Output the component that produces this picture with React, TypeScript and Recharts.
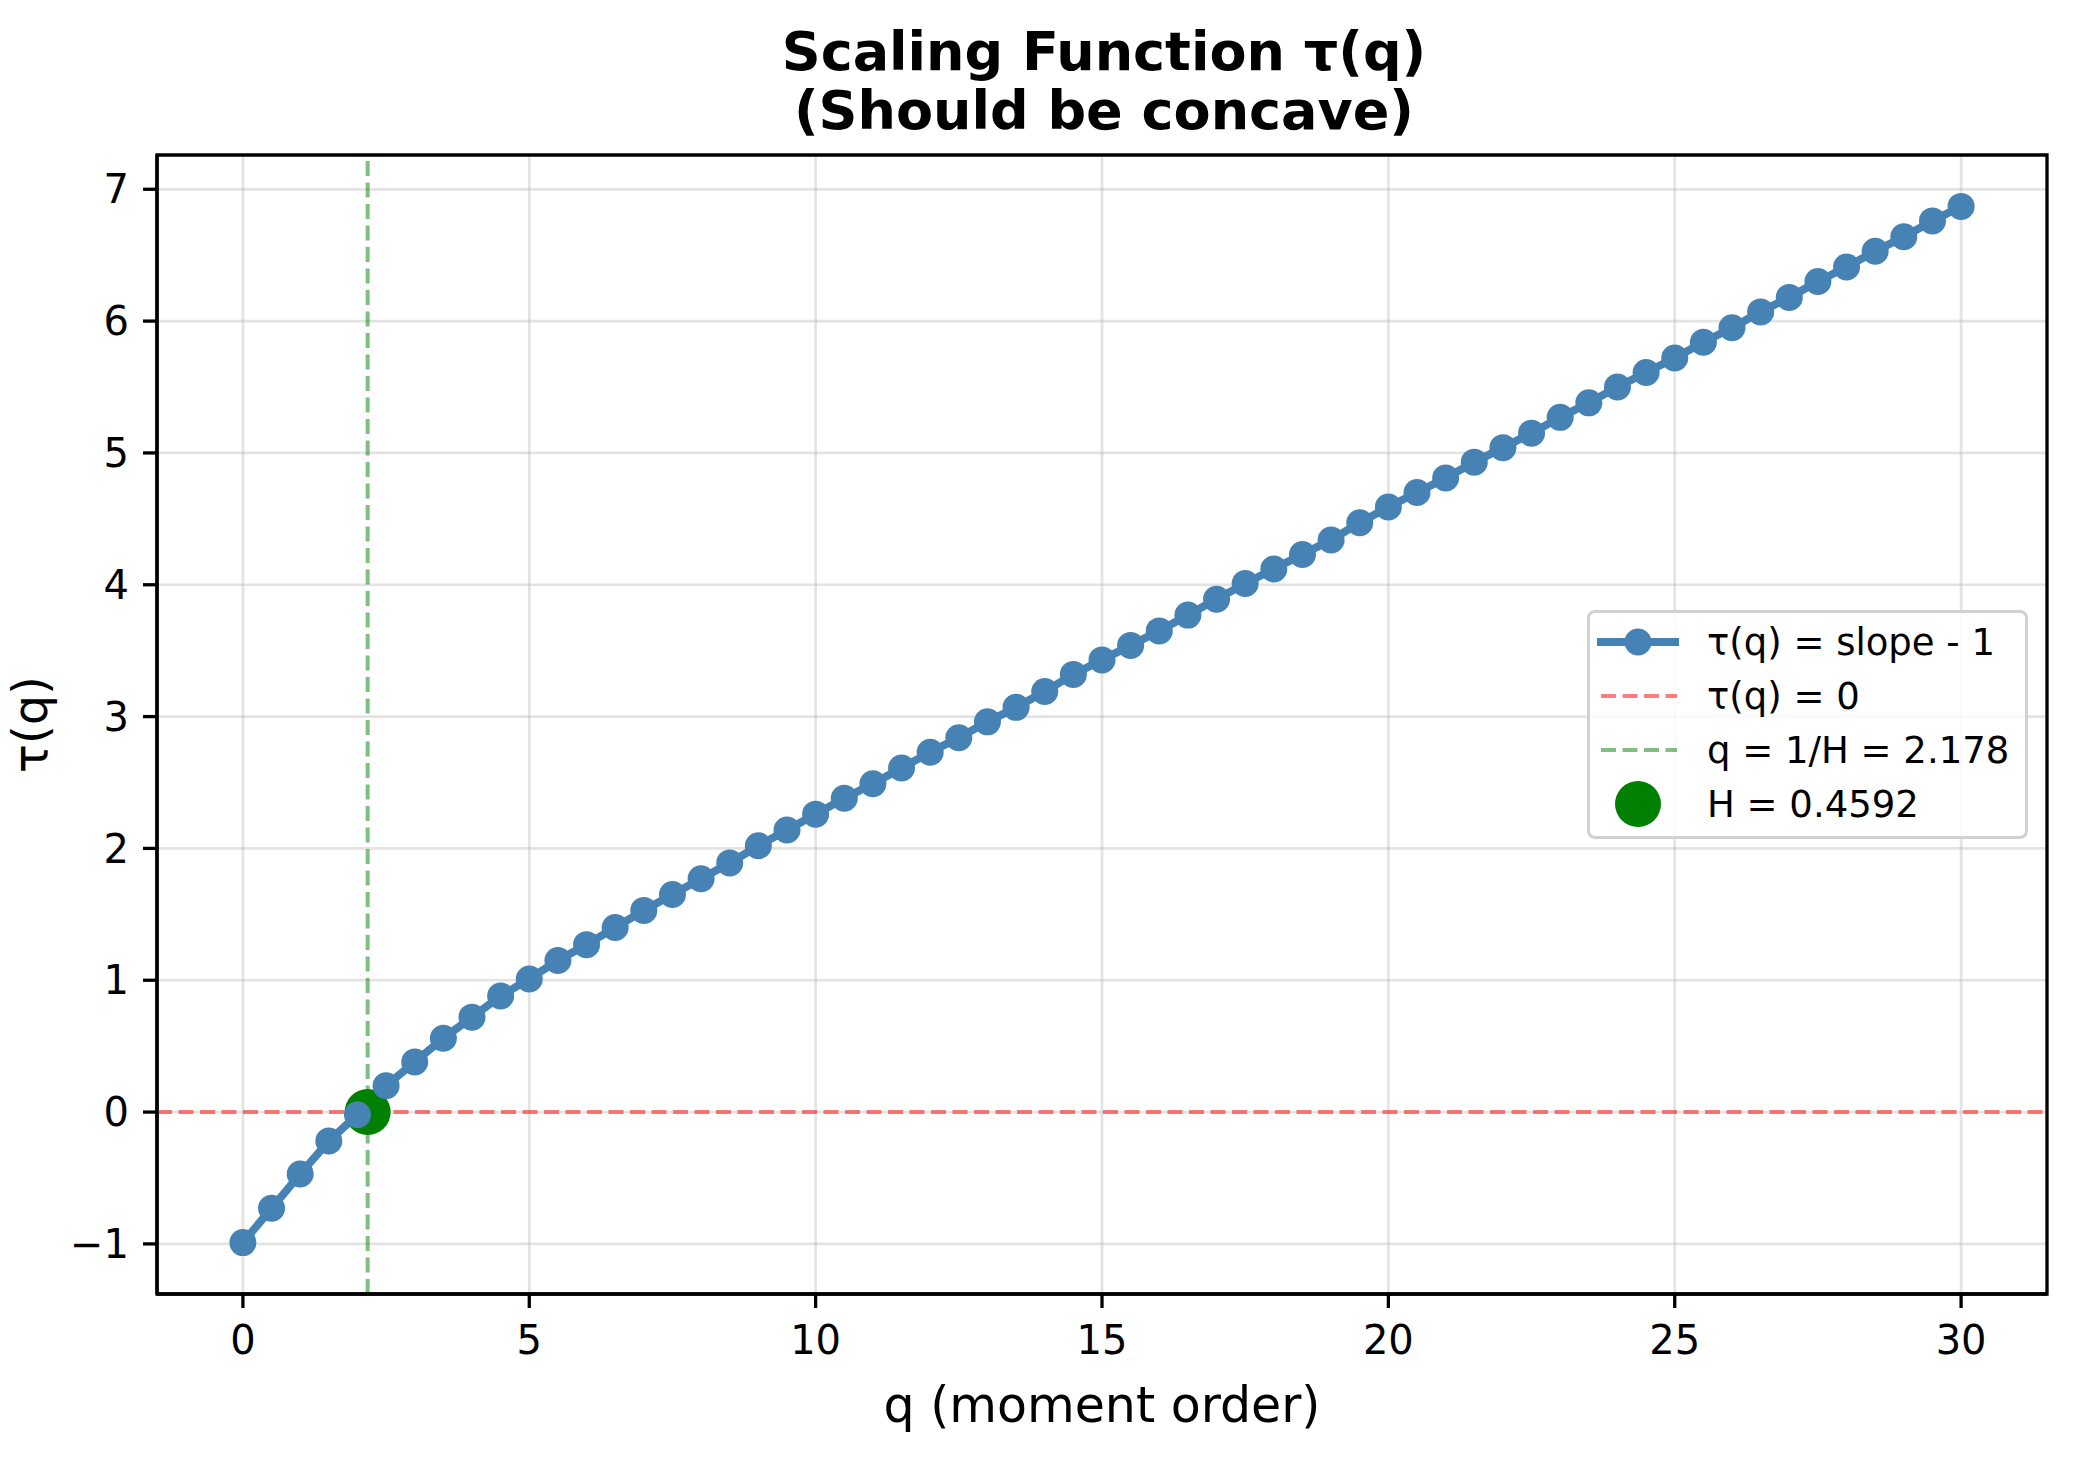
import React from 'react';
import {
  ComposedChart,
  Line,
  Scatter,
  XAxis,
  YAxis,
  CartesianGrid,
  ReferenceLine,
  ReferenceArea,
  Legend,
  Label,
} from 'recharts';

// moment orders q
const qValues = [
  0, 0.5, 1, 1.5, 2, 2.5, 3, 3.5, 4, 4.5, 5, 5.5, 6, 6.5, 7, 7.5, 8, 8.5, 9, 9.5,
  10, 10.5, 11, 11.5, 12, 12.5, 13, 13.5, 14, 14.5, 15, 15.5, 16, 16.5, 17, 17.5,
  18, 18.5, 19, 19.5, 20, 20.5, 21, 21.5, 22, 22.5, 23, 23.5, 24, 24.5, 25, 25.5,
  26, 26.5, 27, 27.5, 28, 28.5, 29, 29.5, 30,
];

// tau(q) = slope - 1
const tauValues = [
  -0.99, -0.73, -0.47, -0.22, -0.02, 0.2, 0.38, 0.56, 0.72, 0.88, 1.01, 1.15, 1.27,
  1.4, 1.53, 1.65, 1.77, 1.89, 2.02, 2.14, 2.26, 2.38, 2.49, 2.61, 2.73, 2.84, 2.96,
  3.07, 3.19, 3.32, 3.43, 3.54, 3.65, 3.77, 3.89, 4.01, 4.12, 4.23, 4.34, 4.47, 4.59,
  4.7, 4.81, 4.93, 5.04, 5.15, 5.27, 5.38, 5.5, 5.61, 5.72, 5.84, 5.95, 6.07, 6.18,
  6.3, 6.41, 6.53, 6.64, 6.76, 6.87,
];

const hurstH = 0.4592;
const qCross = 2.178;
const crossPoint = [{ q: qCross, tau: 0 }];

const xTicks = [0, 5, 10, 15, 20, 25, 30];
const yTicks = [-1, 0, 1, 2, 3, 4, 5, 6, 7];

const legendLabels = [
  'τ(q) = slope - 1',
  'τ(q) = 0',
  `q = 1/H = ${qCross.toFixed(3)}`,
  `H = ${hurstH.toFixed(4)}`,
];

const data = qValues.map((q, i) => ({ q, tau: tauValues[i] }));

const FONT = '"DejaVu Sans", sans-serif';
const BLUE = '#4682b4';

const fmtMinus = (v: number) => (v < 0 ? `\u2212${Math.abs(v)}` : `${v}`);

function LegendBox() {
  const rows = [32, 86, 140, 194];
  return (
    <div
      style={{
        width: 441,
        height: 229,
        boxSizing: 'border-box',
        border: '3px solid rgba(204,204,204,0.9)',
        borderRadius: 8,
        background: 'rgba(255,255,255,0.8)',
      }}
    >
      <svg width={435} height={223} style={{ display: 'block', overflow: 'visible' }}>
        <g transform="translate(-3,-3)">
          <line x1={10} x2={92} y1={rows[0]} y2={rows[0]} stroke={BLUE} strokeWidth={8} />
          <circle cx={51} cy={rows[0]} r={13.5} fill={BLUE} />
          <line
            x1={14} x2={90} y1={rows[1]} y2={rows[1]}
            stroke="red" strokeOpacity={0.5} strokeWidth={4} strokeDasharray="15 6.5"
          />
          <line
            x1={14} x2={90} y1={rows[2]} y2={rows[2]}
            stroke="green" strokeOpacity={0.5} strokeWidth={4} strokeDasharray="15 6.5"
          />
          <circle cx={51} cy={rows[3]} r={23} fill="green" />
          {legendLabels.map((t, i) => (
            <text key={t} x={120} y={rows[i] + 13} fontSize={37} fontFamily={FONT} fill="#000">
              {t}
            </text>
          ))}
        </g>
      </svg>
    </div>
  );
}

export default function App() {
  return (
    <div style={{ position: 'absolute', left: 0, top: 0, width: 2080, height: 1460, background: '#fff' }}>
      <svg
        width={2080}
        height={160}
        style={{ position: 'absolute', left: 0, top: 0, zIndex: 2 }}
      >
        <text x={1104} y={70} textAnchor="middle" fontSize={54} fontWeight="bold" fontFamily={FONT}>
          Scaling Function τ(q)
        </text>
        <text x={1104} y={129} textAnchor="middle" fontSize={54} fontWeight="bold" fontFamily={FONT}>
          (Should be concave)
        </text>
      </svg>
      <ComposedChart
        width={2080}
        height={1460}
        data={data}
        margin={{ top: 155, right: 33, bottom: 36, left: 0 }}
      >
        <CartesianGrid stroke="#b0b0b0" strokeOpacity={0.35} strokeWidth={2.7} />
        <XAxis
          type="number"
          dataKey="q"
          domain={[-1.5, 31.5]}
          ticks={xTicks}
          allowDataOverflow
          height={130}
          tickSize={14}
          tickMargin={18}
          axisLine={{ stroke: '#000', strokeWidth: 3.3 }}
          tickLine={{ stroke: '#000', strokeWidth: 3.3 }}
          tick={{ fontSize: 40, fill: '#000', fontFamily: FONT }}
        >
          <Label
            value="q (moment order)"
            position="insideBottom"
            offset={2}
            style={{ fontSize: 49, fill: '#000', fontFamily: FONT }}
          />
        </XAxis>
        <YAxis
          type="number"
          domain={[-1.38, 7.26]}
          ticks={yTicks}
          allowDataOverflow
          width={157}
          tickSize={14}
          tickMargin={14}
          tickFormatter={fmtMinus}
          axisLine={{ stroke: '#000', strokeWidth: 3.3 }}
          tickLine={{ stroke: '#000', strokeWidth: 3.3 }}
          tick={{ fontSize: 40, fill: '#000', fontFamily: FONT }}
        >
          <Label
            content={(props: any) => {
              const vb = props.viewBox || {};
              const cy = (vb.y ?? 155) + (vb.height ?? 1139) / 2;
              return (
                <text
                  x={47}
                  y={cy}
                  transform={`rotate(-90, 47, ${cy})`}
                  textAnchor="middle"
                  fontSize={48}
                  fontFamily={FONT}
                  fill="#000"
                >
                  τ(q)
                </text>
              );
            }}
          />
        </YAxis>
        <ReferenceLine
          y={0}
          stroke="red"
          strokeOpacity={0.5}
          strokeWidth={4}
          strokeDasharray="15 6.5"
        />
        <ReferenceLine
          x={qCross}
          stroke="green"
          strokeOpacity={0.5}
          strokeWidth={4}
          strokeDasharray="15 6.5"
        />
        <Line
          type="linear"
          dataKey="tau"
          stroke={BLUE}
          strokeWidth={8}
          dot={{ r: 13.5, fill: BLUE, stroke: BLUE, strokeWidth: 0 }}
          activeDot={false}
          isAnimationActive={false}
        />
        <Scatter
          data={crossPoint}
          dataKey="tau"
          fill="green"
          isAnimationActive={false}
          shape={(p: any) => <circle cx={p.cx} cy={p.cy} r={23} fill="green" />}
        />
        <ReferenceArea
          x1={-1.5}
          x2={31.5}
          y1={-1.38}
          y2={7.26}
          fill="none"
          stroke="#000"
          strokeWidth={3.3}
          ifOverflow="visible"
        />
        <Legend
          layout="vertical"
          align="center"
          verticalAlign="middle"
          wrapperStyle={{ left: 1587, top: 610, width: 441, height: 229 }}
          content={() => <LegendBox />}
        />
      </ComposedChart>
    </div>
  );
}
